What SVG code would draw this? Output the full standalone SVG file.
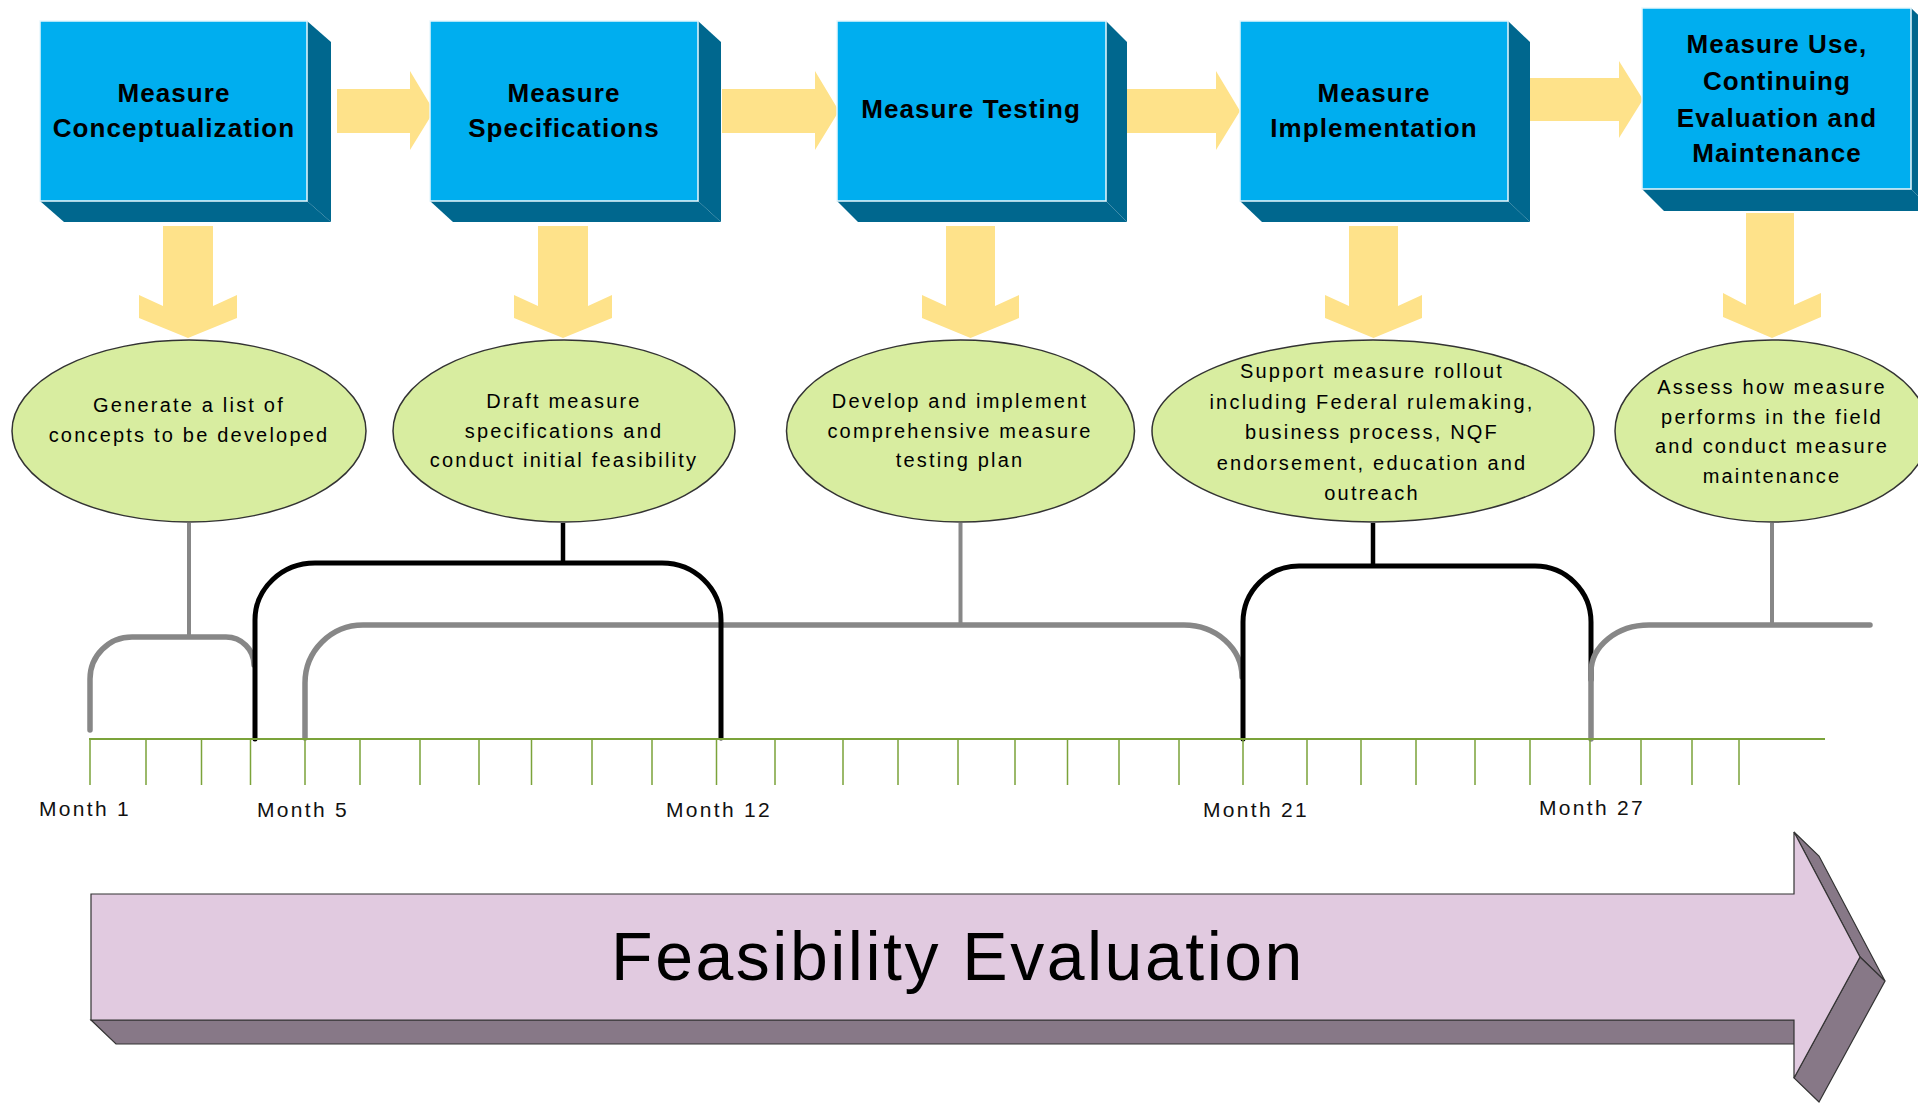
<svg xmlns="http://www.w3.org/2000/svg" width="1918" height="1106" viewBox="0 0 1918 1106">
<defs>
<style>
.front{fill:#00AEEF;stroke:#E8F7FD;stroke-width:1.5}
.side{fill:#00678E}
.btxt{font-family:"Liberation Sans",Arial,sans-serif;font-weight:bold;font-size:26px;letter-spacing:1.1px;fill:#000;text-anchor:middle}
.yarrow{fill:#FEE28A}
.ell{fill:#D8EDA0;stroke:#333;stroke-width:1.5}
.etxt{font-family:"Liberation Sans",Arial,sans-serif;font-size:20px;letter-spacing:2.2px;fill:#000;text-anchor:middle}
.gray{fill:none;stroke:#878787;stroke-width:5.5;stroke-linecap:round}
.black{fill:none;stroke:#000;stroke-width:5;stroke-linecap:round}
.stemg{fill:none;stroke:#878787;stroke-width:4}
.stemb{fill:none;stroke:#000;stroke-width:4.5}
.tl{stroke:#7BA33A;stroke-width:2;fill:none}
.tick{stroke:#7BA33A;stroke-width:1.5}
.mtxt{font-family:"Liberation Sans",Arial,sans-serif;font-size:21px;letter-spacing:2.3px;fill:#111}
.afront{fill:#E1CAE0;stroke:#333;stroke-width:1.2}
.aside{fill:#877887;stroke:#333;stroke-width:1.2}
</style>
</defs>
<rect width="1918" height="1106" fill="#fff"/>

<!-- horizontal yellow arrows -->
<g id="h-arrows">
<polygon class="yarrow" points="337,89 410,89 410,71 434,111 410,150 410,133 337,133"/>
<polygon class="yarrow" points="722,89 815,89 815,71 839,111 815,150 815,133 722,133"/>
<polygon class="yarrow" points="1122,89 1216,89 1216,71 1240,111 1216,150 1216,133 1122,133"/>
<polygon class="yarrow" points="1530,78 1619,78 1619,61 1643,99.5 1619,138 1619,121 1530,121"/>
</g>

<!-- boxes -->
<g id="box1">
<polygon class="side" points="307,21 331,42 331,222 307,201"/>
<polygon class="side" points="40,201 307,201 331,222 64,222"/>
<rect class="front" x="40" y="21" width="267" height="180"/>
<text class="btxt" x="174" y="102">Measure</text>
<text class="btxt" x="174" y="137">Conceptualization</text>
</g>
<g id="box2">
<polygon class="side" points="698,21 721,42 721,222 698,201"/>
<polygon class="side" points="430,201 698,201 721,222 453,222"/>
<rect class="front" x="430" y="21" width="268" height="180"/>
<text class="btxt" x="564" y="102">Measure</text>
<text class="btxt" x="564" y="137">Specifications</text>
</g>
<g id="box3">
<polygon class="side" points="1106,21 1127,42 1127,222 1106,201"/>
<polygon class="side" points="837,201 1106,201 1127,222 858,222"/>
<rect class="front" x="837" y="21" width="269" height="180"/>
<text class="btxt" x="971" y="118">Measure Testing</text>
</g>
<g id="box4">
<polygon class="side" points="1508,21 1530,42 1530,222 1508,201"/>
<polygon class="side" points="1240,201 1508,201 1530,222 1262,222"/>
<rect class="front" x="1240" y="21" width="268" height="180"/>
<text class="btxt" x="1374" y="102">Measure</text>
<text class="btxt" x="1374" y="137">Implementation</text>
</g>
<g id="box5">
<polygon class="side" points="1911,8 1933,29 1933,211 1911,189"/>
<polygon class="side" points="1642,189 1911,189 1933,211 1664,211"/>
<rect class="front" x="1642" y="8" width="269" height="181"/>
<text class="btxt" x="1777" y="53">Measure Use,</text>
<text class="btxt" x="1777" y="90">Continuing</text>
<text class="btxt" x="1777" y="127">Evaluation and</text>
<text class="btxt" x="1777" y="162">Maintenance</text>
</g>

<!-- down arrows -->
<g id="v-arrows">
<polygon class="yarrow" points="163,226 213,226 213,306 237,295 237,318 188,338 139,318 139,295 163,306"/>
<polygon class="yarrow" points="538,226 588,226 588,306 612,295 612,318 563,338 514,318 514,295 538,306"/>
<polygon class="yarrow" points="946,226 995,226 995,306 1019,295 1019,318 970.5,338 922,318 922,295 946,306"/>
<polygon class="yarrow" points="1349,226 1398,226 1398,306 1422,295 1422,318 1373.5,338 1325,318 1325,295 1349,306"/>
<polygon class="yarrow" points="1746,213 1794,213 1794,305 1821,293 1821,317 1772,338 1723,317 1723,293 1746,305"/>
</g>

<!-- ellipses -->
<g id="step1">
<ellipse class="ell" cx="189" cy="431" rx="177" ry="91"/>
<text class="etxt" x="189" y="412">Generate a list of</text>
<text class="etxt" x="189" y="442">concepts to be developed</text>
</g>
<g id="step2">
<ellipse class="ell" cx="564" cy="431" rx="171" ry="91"/>
<text class="etxt" x="564" y="408">Draft measure</text>
<text class="etxt" x="564" y="438">specifications and</text>
<text class="etxt" x="564" y="467">conduct initial feasibility</text>
</g>
<g id="step3">
<ellipse class="ell" cx="960.5" cy="431" rx="174" ry="91"/>
<text class="etxt" x="960" y="408">Develop and implement</text>
<text class="etxt" x="960" y="438">comprehensive measure</text>
<text class="etxt" x="960" y="467">testing plan</text>
</g>
<g id="step4">
<ellipse class="ell" cx="1373" cy="431" rx="221" ry="91"/>
<text class="etxt" x="1372" y="378">Support measure rollout</text>
<text class="etxt" x="1372" y="408.5">including Federal rulemaking,</text>
<text class="etxt" x="1372" y="439">business process, NQF</text>
<text class="etxt" x="1372" y="469.5">endorsement, education and</text>
<text class="etxt" x="1372" y="500">outreach</text>
</g>
<g id="step5">
<ellipse class="ell" cx="1772" cy="431" rx="157" ry="91"/>
<text class="etxt" x="1772" y="394">Assess how measure</text>
<text class="etxt" x="1772" y="423.5">performs in the field</text>
<text class="etxt" x="1772" y="453">and conduct measure</text>
<text class="etxt" x="1772" y="483">maintenance</text>
</g>

<!-- connectors -->
<g id="connectors">
<path class="gray" d="M90,730 V679 A42,42 0 0 1 132,637 H226 A28,28 0 0 1 254,665"/>
<path class="gray" d="M305,738 V683 A58,58 0 0 1 363,625 H1184 A58,52 0 0 1 1242,677"/>
<path class="black" d="M255,739 V620 A60,57 0 0 1 315,563 H662 A59,57 0 0 1 721,620 V738"/>
<path class="black" d="M1243,739 V622 A56,56 0 0 1 1299,566 H1535 A56,56 0 0 1 1591,622 V680"/>
<path class="gray" d="M1591,739 V672 A58,47 0 0 1 1649,625 H1870"/>
<path class="stemg" d="M189,523 V637"/>
<path class="stemb" d="M563,523 V563"/>
<path class="stemg" d="M960.5,523 V625"/>
<path class="stemb" d="M1373,523 V566"/>
<path class="stemg" d="M1772,523 V625"/>
</g>

<!-- timeline -->
<g id="timeline">
<path class="tl" d="M89,739 H1825"/>
<path class="tick" d="M90,739V785M146,739V785M201.5,739V785M250.5,739V785M305,739V785M360,739V785M420,739V785M479,739V785M531.5,739V785M592,739V785M652,739V785M716.5,739V785M775,739V785M843,739V785M898,739V785M958,739V785M1015,739V785M1067.5,739V785M1119,739V785M1179,739V785M1243,739V785M1307,739V785M1361,739V785M1416,739V785M1475,739V785M1530,739V785M1590,739V785M1641,739V785M1692,739V785M1739,739V785"/>
<text class="mtxt" x="39" y="816">Month 1</text>
<text class="mtxt" x="257" y="817">Month 5</text>
<text class="mtxt" x="666" y="817">Month 12</text>
<text class="mtxt" x="1203" y="817">Month 21</text>
<text class="mtxt" x="1539" y="815">Month 27</text>
</g>

<!-- big arrow -->
<g id="feasibility">
<polygon class="aside" points="91,1020 1794,1020 1819,1044 116,1044"/>
<polygon class="aside" points="1794,832 1819,856 1885,981 1860,957"/>
<polygon class="aside" points="1860,957 1885,981 1819,1102 1794,1078"/>
<polygon class="afront" points="91,894 1794,894 1794,832 1860,957 1794,1078 1794,1020 91,1020"/>
<text x="958" y="980" font-family="Liberation Sans, Arial, sans-serif" font-size="68" letter-spacing="2.5" text-anchor="middle" fill="#000">Feasibility Evaluation</text>
</g>
</svg>
